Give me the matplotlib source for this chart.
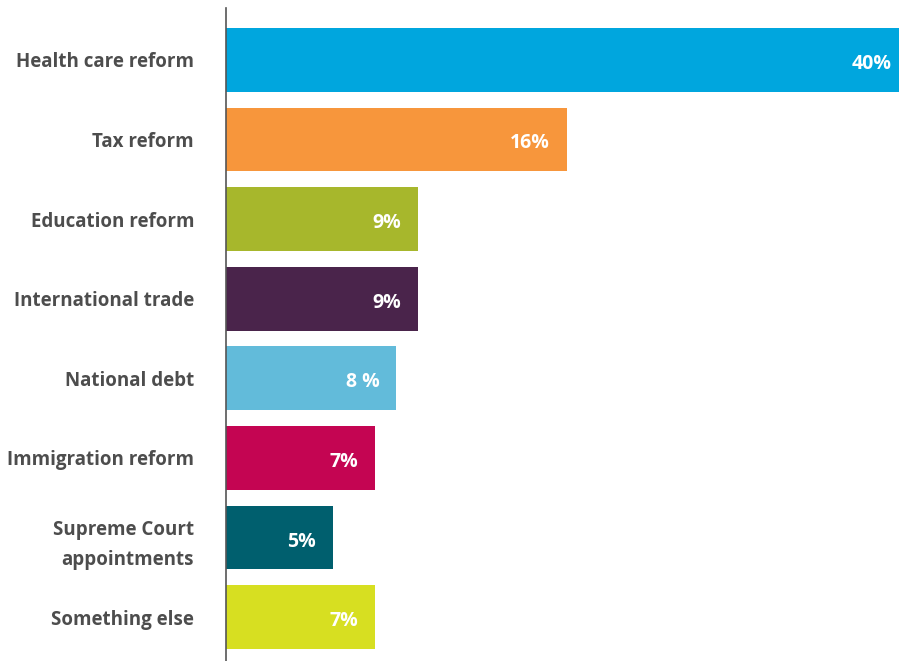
import matplotlib
matplotlib.use("Agg")
import matplotlib.pyplot as plt

# survey answers, top to bottom
issues = ["Health care reform", "Tax reform", "Education reform", "International trade",
          "National debt", "Immigration reform", "Supreme Court\nappointments", "Something else"]
shares = [40, 16, 9, 9, 8, 7, 5, 7]
share_labels = ["40%", "16%", "9%", "9%", "8 %", "7%", "5%", "7%"]
colors = ["#00A6DE", "#F7963C", "#A7B72C", "#4A244B", "#62BBDA", "#C40552", "#005F6E", "#D7DF21"]

plt.rcParams['font.family'] = ['Open Sans', 'DejaVu Sans']

fig = plt.figure(figsize=(8.99, 6.61), dpi=100)
ax = fig.add_axes([226 / 899, 0, 1 - 226 / 899, 1 - 8 / 661])

ys = range(len(issues))
ax.barh(ys, shares, height=0.8, color=colors)

xmax = 673 / 21.3
ax.set_xlim(0, xmax)
ax.set_ylim(7.55, -0.65)

for y, (v, lab) in enumerate(zip(shares, share_labels)):
    clipped = v > xmax
    off = -7 if clipped else -17
    ax.annotate(lab, (min(v, xmax), y), xytext=(off * 0.72, -4 * 0.72), textcoords="offset points",
                ha="right", va="center", color="white", fontsize=14, fontweight="bold")

ax.set_yticks(list(ys))
ax.set_yticklabels(issues, fontsize=13.5, fontweight="bold", color="#4d4d4d", linespacing=1.65)
ax.tick_params(axis="y", length=0, pad=23)
ax.set_xticks([])

for side in ["top", "right", "bottom"]:
    ax.spines[side].set_visible(False)
ax.spines["left"].set_color("#555555")
ax.spines["left"].set_linewidth(1.2)

fig.savefig("out.png", dpi=100)
